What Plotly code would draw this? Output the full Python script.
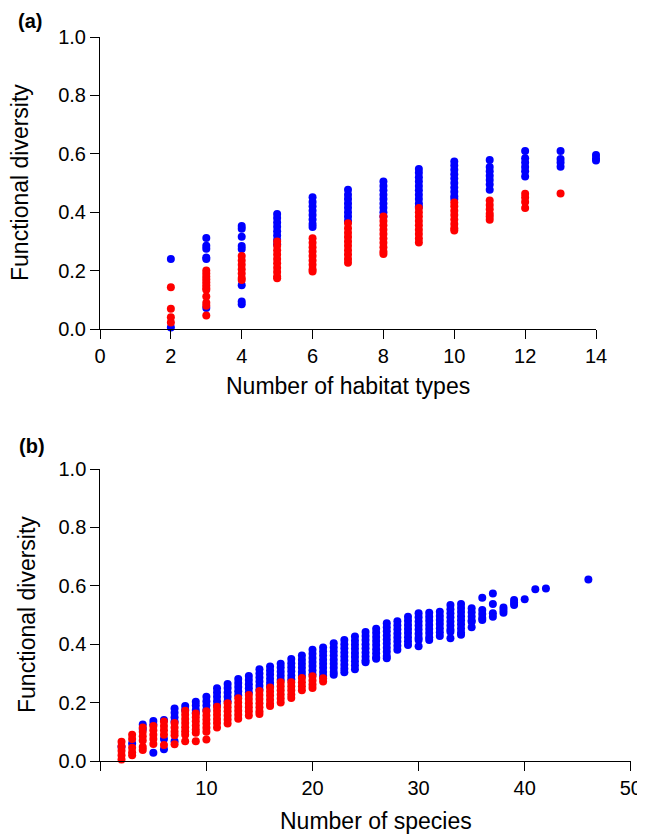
import plotly.graph_objects as go

# ---------------- Panel (a): functional diversity vs number of habitat types
hab_types = [2, 3, 4, 5, 6, 7, 8, 9, 10, 11, 12, 13, 14]
hab_blue = [
    [0.24, 0.005],
    [0.312, 0.285, 0.275, 0.245, 0.24, 0.072],
    [0.353, 0.343, 0.316, 0.284, 0.274, 0.15, 0.094, 0.085],
    [0.394, 0.38, 0.365, 0.35, 0.335, 0.32, 0.305, 0.29],
    [0.451, 0.435, 0.42, 0.405, 0.39, 0.375, 0.36, 0.349],
    [0.477, 0.46, 0.445, 0.43, 0.415, 0.4, 0.385, 0.37],
    [0.505, 0.49, 0.475, 0.46, 0.445, 0.43, 0.415, 0.4, 0.385],
    [0.548, 0.535, 0.52, 0.505, 0.49, 0.475, 0.46, 0.445, 0.43, 0.419],
    [0.574, 0.56, 0.545, 0.53, 0.515, 0.5, 0.485, 0.47, 0.455, 0.445],
    [0.579, 0.555, 0.54, 0.525, 0.51, 0.495, 0.477],
    [0.61, 0.585, 0.57, 0.555, 0.54, 0.522],
    [0.61, 0.582, 0.57, 0.556],
    [0.596, 0.585, 0.577],
]
hab_red = [
    [0.143, 0.069, 0.04, 0.022],
    [0.2, 0.19, 0.18, 0.17, 0.16, 0.15, 0.14, 0.134, 0.111, 0.09, 0.08, 0.046],
    [0.25, 0.235, 0.22, 0.205, 0.19, 0.175, 0.168],
    [0.3, 0.285, 0.27, 0.255, 0.24, 0.225, 0.21, 0.195, 0.18, 0.174],
    [0.311, 0.295, 0.28, 0.265, 0.25, 0.235, 0.22, 0.205, 0.197],
    [0.362, 0.345, 0.33, 0.315, 0.3, 0.285, 0.27, 0.255, 0.24, 0.227],
    [0.385, 0.37, 0.355, 0.34, 0.325, 0.31, 0.295, 0.28, 0.265, 0.257],
    [0.414, 0.4, 0.385, 0.37, 0.355, 0.34, 0.325, 0.31, 0.296],
    [0.433, 0.42, 0.405, 0.39, 0.375, 0.36, 0.345, 0.337],
    [0.44, 0.425, 0.41, 0.395, 0.385, 0.374],
    [0.463, 0.45, 0.435, 0.414],
    [0.464],
    [],
]

# ---------------- Panel (b): functional diversity vs number of species
sp_blue_n = [2, 3, 4, 5, 6, 7, 8, 9, 10, 11, 12, 13, 14, 15, 16, 17, 18, 19, 20,
             21, 22, 23, 24, 25, 26, 27, 28, 29, 30, 31, 32, 33, 34, 35, 36, 37,
             38, 39, 40, 41, 42, 46]
sp_blue = [
    [0.049],
    [0.06],
    [0.125, 0.11],
    [0.137, 0.125, 0.028],
    [0.14, 0.075, 0.04],
    [0.18, 0.165, 0.15, 0.135, 0.068],
    [0.188, 0.175],
    [0.203, 0.19, 0.175, 0.165],
    [0.22, 0.205, 0.19, 0.175],
    [0.249, 0.235, 0.22, 0.205, 0.19],
    [0.264, 0.25, 0.235, 0.22, 0.205],
    [0.281, 0.267, 0.253, 0.239, 0.225],
    [0.291, 0.277, 0.263, 0.249, 0.235],
    [0.314, 0.3, 0.286, 0.272, 0.258, 0.245],
    [0.324, 0.31, 0.296, 0.282, 0.268, 0.256],
    [0.333, 0.32, 0.306, 0.292, 0.278],
    [0.349, 0.335, 0.321, 0.307, 0.293, 0.28],
    [0.361, 0.347, 0.333, 0.319, 0.305, 0.292],
    [0.381, 0.367, 0.353, 0.339, 0.325, 0.311, 0.297],
    [0.389, 0.375, 0.361, 0.347, 0.333, 0.319, 0.305, 0.291],
    [0.403, 0.389, 0.375, 0.361, 0.347, 0.333, 0.319, 0.305, 0.295],
    [0.414, 0.4, 0.386, 0.372, 0.358, 0.344, 0.33, 0.316, 0.304],
    [0.426, 0.412, 0.398, 0.384, 0.37, 0.356, 0.342, 0.328, 0.314],
    [0.442, 0.428, 0.414, 0.4, 0.386, 0.372, 0.358, 0.345, 0.338],
    [0.453, 0.439, 0.425, 0.411, 0.397, 0.383, 0.369, 0.355, 0.35],
    [0.472, 0.458, 0.444, 0.43, 0.416, 0.402, 0.388, 0.374, 0.36, 0.352],
    [0.479, 0.465, 0.451, 0.437, 0.423, 0.409, 0.395, 0.381],
    [0.494, 0.48, 0.466, 0.452, 0.438, 0.424, 0.41, 0.397],
    [0.506, 0.492, 0.478, 0.464, 0.45, 0.436, 0.422, 0.414, 0.393],
    [0.508, 0.494, 0.48, 0.466, 0.452, 0.438, 0.424, 0.414],
    [0.511, 0.497, 0.483, 0.469, 0.455, 0.441, 0.428],
    [0.534, 0.52, 0.506, 0.492, 0.478, 0.464, 0.45, 0.443, 0.42],
    [0.538, 0.524, 0.51, 0.496, 0.482, 0.468, 0.454, 0.44, 0.432],
    [0.523, 0.509, 0.495, 0.481, 0.477, 0.458],
    [0.559, 0.517, 0.503, 0.49, 0.483],
    [0.574, 0.538, 0.506, 0.494],
    [0.526, 0.517, 0.508],
    [0.551, 0.542, 0.534],
    [0.554],
    [0.588],
    [0.591],
    [0.622],
]
sp_red_n = [2, 3, 4, 5, 6, 7, 8, 9, 10, 11, 12, 13, 14, 15, 16, 17, 18, 19, 20, 21]
sp_red = [
    [0.066, 0.05, 0.035, 0.02, 0.005],
    [0.09, 0.075, 0.045, 0.03, 0.02],
    [0.115, 0.1, 0.085, 0.07, 0.048, 0.038],
    [0.12, 0.105, 0.09, 0.075, 0.058],
    [0.135, 0.12, 0.105, 0.09, 0.055],
    [0.13, 0.115, 0.1, 0.088, 0.057],
    [0.172, 0.158, 0.144, 0.13, 0.116, 0.102, 0.09, 0.068],
    [0.163, 0.15, 0.136, 0.122, 0.108, 0.097, 0.068],
    [0.17, 0.156, 0.142, 0.128, 0.114, 0.1, 0.074],
    [0.186, 0.172, 0.158, 0.144, 0.13, 0.115],
    [0.198, 0.184, 0.17, 0.156, 0.142, 0.128],
    [0.215, 0.2, 0.186, 0.172, 0.158, 0.145],
    [0.226, 0.212, 0.198, 0.184, 0.17, 0.156],
    [0.24, 0.226, 0.212, 0.198, 0.184, 0.17, 0.161],
    [0.252, 0.238, 0.224, 0.21, 0.196, 0.188],
    [0.27, 0.256, 0.242, 0.228, 0.214, 0.2],
    [0.27, 0.256, 0.242, 0.228, 0.216],
    [0.284, 0.27, 0.256, 0.242],
    [0.29, 0.276, 0.262, 0.25],
    [0.283, 0.272],
]

y_ticks = [0.0, 0.2, 0.4, 0.6, 0.8, 1.0]
a_x_ticks = [0, 2, 4, 6, 8, 10, 12, 14]
b_x_ticks = [0, 10, 20, 30, 40, 50]
b_x_ticktext = ["", "10", "20", "30", "40", "50"]


def flatten(xvals, groups):
    xs, ys = [], []
    for xv, g in zip(xvals, groups):
        for v in g:
            xs.append(xv)
            ys.append(v)
    return xs, ys


BLUE = "#0000FF"
RED = "#FF0000"
MS = 8

fig = go.Figure()
for (xv, groups, col, xa, ya) in [
    (hab_types, hab_blue, BLUE, "x", "y"),
    (hab_types, hab_red, RED, "x", "y"),
    (sp_blue_n, sp_blue, BLUE, "x2", "y2"),
    (sp_red_n, sp_red, RED, "x2", "y2"),
]:
    xs, ys = flatten(xv, groups)
    fig.add_trace(go.Scatter(
        x=xs, y=ys, mode="markers", xaxis=xa, yaxis=ya,
        marker=dict(color=col, size=MS, line=dict(width=0)),
        cliponaxis=False, showlegend=False, hoverinfo="skip",
    ))

# the page is shown with the browser's default 8px body margin,
# so the figure starts 8px right and 8px down in the window
W, H, BODY_M = 645, 836, 8


def fx(px):
    return (px - BODY_M) / W


def fy(py):
    return 1 - (py - BODY_M) / H


FONT = "Liberation Sans, Arial, Helvetica, sans-serif"
TICKFONT = dict(family=FONT, size=20, color="black")

common_axis = dict(
    showline=True, linecolor="black", linewidth=1,
    ticks="outside", ticklen=9, tickwidth=1, tickcolor="black",
    showgrid=False, zeroline=False, tickfont=TICKFONT,
    fixedrange=True, automargin=False,
)

fig.update_layout(
    template="simple_white",
    width=W, height=H,
    autosize=False,
    margin=dict(l=0, r=0, t=0, b=0, pad=0, autoexpand=False),
    paper_bgcolor="white", plot_bgcolor="white",
    showlegend=False,
    font=dict(family=FONT, color="black"),
    xaxis=dict(domain=[fx(100), fx(596)], range=[0, 14], anchor="y",
               tickmode="array", tickvals=a_x_ticks, **common_axis),
    yaxis=dict(domain=[fy(329), fy(37)], range=[0, 1], anchor="x",
               tickmode="array", tickvals=y_ticks, tickformat=".1f",
               **common_axis),
    xaxis2=dict(domain=[fx(100.3), fx(630.8)], range=[0, 50], anchor="y2",
                tickmode="array", tickvals=b_x_ticks, ticktext=b_x_ticktext,
                **common_axis),
    yaxis2=dict(domain=[fy(761), fy(469)], range=[0, 1], anchor="x2",
                tickmode="array", tickvals=y_ticks, tickformat=".1f",
                **common_axis),
)

TITLEFONT = dict(family=FONT, size=23, color="black")
ann = [
    dict(text="<b>(a)</b>", x=fx(16), y=fy(21), xanchor="left", yanchor="middle",
         font=dict(family=FONT, size=20, color="black")),
    dict(text="<b>(b)</b>", x=fx(17), y=fy(446), xanchor="left", yanchor="middle",
         font=dict(family=FONT, size=20, color="black")),
    dict(text="Number of habitat types", x=fx(348), y=fy(386),
         xanchor="center", yanchor="middle", font=TITLEFONT),
    dict(text="Number of species", x=fx(376), y=fy(821),
         xanchor="center", yanchor="middle", font=TITLEFONT),
    dict(text="Functional diversity", x=fx(20), y=fy(183), textangle=-90,
         xanchor="center", yanchor="middle", font=TITLEFONT),
    dict(text="Functional diversity", x=fx(27), y=fy(615), textangle=-90,
         xanchor="center", yanchor="middle", font=TITLEFONT),
]
for a in ann:
    a.update(xref="paper", yref="paper", showarrow=False)
fig.update_layout(annotations=ann)

fig.write_html("out.html", config={"displayModeBar": False})
